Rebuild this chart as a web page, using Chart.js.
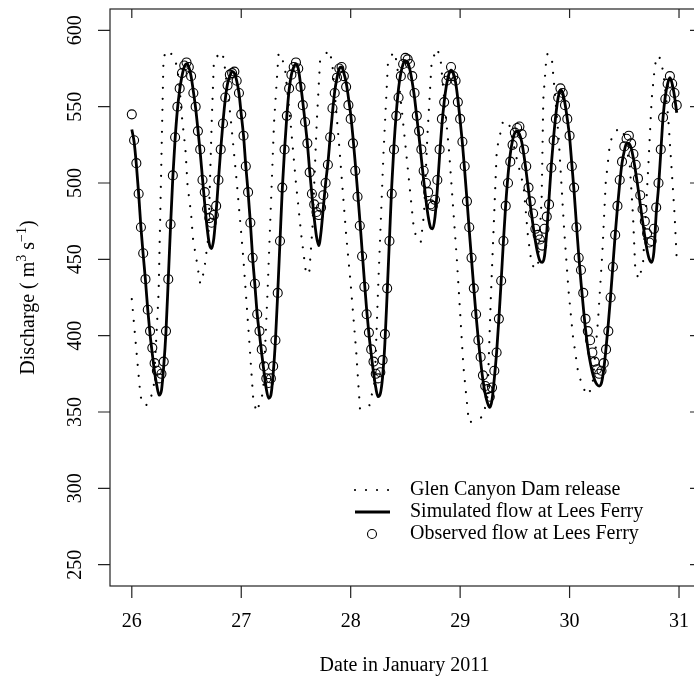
<!DOCTYPE html>
<html>
<head>
<meta charset="utf-8">
<script src="https://cdn.jsdelivr.net/npm/chart.js@4.4.1/dist/chart.umd.min.js"></script>
<style>
  html, body { margin: 0; padding: 0; background: #fff; overflow: hidden; }
  canvas { display: block; }
</style>
</head>
<body>
<canvas id="graficoCaudal" width="710" height="683"></canvas>
<script>
// half-hourly samples starting 26 Jan 2011 00:00
const startDay = 26;
const stepDay = 1 / 48;

// simulated flow at Lees Ferry (m3/s), half-hourly
const simFlow = [
  535, 527, 512, 493, 471, 453, 436, 417, 401, 388,
  376, 367, 361, 364, 380, 403, 437, 472, 504, 529,
  548, 561, 570, 576, 578, 576, 570, 560, 549, 535,
  520, 503, 486, 471, 460, 457, 464, 481, 502, 522,
  540, 555, 565, 570, 573, 572, 567, 559, 545, 531,
  511, 494, 474, 451, 433, 414, 401, 388, 376, 365,
  359, 361, 375, 397, 428, 462, 496, 522, 544, 561,
  571, 576, 578, 575, 565, 553, 540, 526, 508, 492,
  477, 465, 459, 468, 484, 500, 513, 530, 546, 560,
  569, 575, 576, 572, 566, 556, 545, 530, 513, 495,
  476, 456, 436, 417, 401, 388, 376, 366, 360, 362,
  373, 395, 428, 463, 498, 525, 546, 562, 572, 578,
  580, 579, 574, 566, 556, 543, 530, 516, 502, 489,
  478, 471, 470, 478, 496, 518, 538, 553, 564, 571,
  574, 572, 566, 555, 541, 526, 508, 489, 469, 450,
  431, 413, 397, 383, 371, 362, 356, 353, 358, 372,
  389, 411, 436, 462, 486, 505, 519, 528, 533, 534,
  532, 527, 518, 507, 495, 483, 472, 462, 454, 449,
  448, 452, 468, 490, 512, 530, 545, 556, 561, 559,
  552, 542, 530, 512, 494, 473, 453, 435, 419, 404,
  392, 383, 376, 371, 368, 367, 369, 378, 392, 408,
  426, 446, 466, 484, 500, 513, 521, 526, 526, 523,
  516, 507, 497, 486, 475, 465, 456, 450, 448, 455,
  480, 497, 520, 543, 557, 565, 569, 565, 557, 546
];

// observed flow at Lees Ferry (m3/s), half-hourly
const obsFlow = [
  545, 528, 513, 493, 471, 454, 437, 417, 403, 392,
  382, 377, 372, 375, 383, 403, 437, 473, 505, 530,
  550, 562, 572, 577, 579, 576, 570, 559, 550, 534,
  522, 502, 494, 483, 477, 474, 479, 485, 502, 522,
  539, 556, 564, 571, 572, 573, 567, 559, 545, 531,
  511, 494, 474, 451, 434, 414, 403, 391, 380, 372,
  369, 372, 380, 397, 428, 462, 497, 522, 544, 562,
  571, 576, 579, 575, 563, 551, 540, 526, 507, 493,
  486, 481, 479, 484, 492, 500, 512, 530, 549, 559,
  569, 575, 576, 570, 563, 551, 542, 526, 508, 491,
  472, 452, 432, 414, 402, 391, 383, 375, 372, 376,
  384, 401, 431, 462, 493, 522, 544, 556, 570, 578,
  582, 581, 578, 570, 559, 544, 534, 522, 508, 500,
  494, 486, 485, 489, 502, 522, 542, 553, 567, 570,
  576, 570, 567, 553, 542, 527, 511, 488, 471, 451,
  431, 414, 397, 386, 374, 367, 365, 360, 366, 377,
  389, 411, 436, 462, 485, 500, 514, 525, 533, 536,
  537, 532, 522, 511, 497, 488, 480, 470, 466, 463,
  459, 470, 478, 486, 510, 528, 542, 556, 562, 559,
  551, 542, 531, 511, 497, 471, 451, 443, 428, 411,
  403, 397, 389, 383, 378, 375, 377, 382, 391, 403,
  425, 445, 466, 485, 502, 514, 524, 529, 531, 526,
  519, 512, 503, 492, 483, 475, 467, 461, 462, 470,
  484, 500, 522, 543, 555, 565, 570, 565, 559, 551
];

// Glen Canyon Dam release (m3/s), read at its turning points
const releaseDay = [
  26.00, 26.04, 26.08, 26.12, 26.16, 26.20, 26.245, 26.29, 26.34, 26.40,
  26.43, 26.46, 26.49, 26.51, 26.54, 26.56, 26.595, 26.625, 26.66, 26.70,
  26.73, 26.75, 26.81, 26.84, 26.90, 26.96, 27.02, 27.07, 27.11, 27.14,
  27.17, 27.20, 27.24, 27.30, 27.34, 27.36, 27.40, 27.45, 27.50, 27.55,
  27.59, 27.62, 27.65, 27.69, 27.72, 27.80, 27.83, 27.90, 27.96, 28.00,
  28.05, 28.085, 28.17, 28.22, 28.25, 28.30, 28.34, 28.39, 28.42, 28.50,
  28.58, 28.64, 28.67, 28.70, 28.74, 28.79, 28.82, 28.90, 28.97, 29.03,
  29.08, 29.15, 29.21, 29.25, 29.28, 29.335, 29.39, 29.42, 29.45, 29.52,
  29.58, 29.62, 29.655, 29.71, 29.745, 29.76, 29.79, 29.81, 29.84, 29.90,
  29.95, 29.99, 30.03, 30.08, 30.13, 30.17, 30.21, 30.26, 30.30, 30.33,
  30.37, 30.42, 30.46, 30.49, 30.55, 30.58, 30.60, 30.63, 30.67, 30.72,
  30.75, 30.78, 30.80, 30.82, 30.856, 30.90, 30.93, 30.96, 30.98
];
const releaseFlow = [
  424, 392, 360, 354, 356, 366, 428, 583, 587, 580,
  568, 542, 522, 498, 481, 463, 448, 434, 442, 465,
  540, 580, 586, 582, 545, 500, 450, 400, 358, 350,
  356, 363, 428, 540, 584, 585, 575, 540, 500, 465,
  442, 440, 470, 540, 580, 587, 580, 520, 465, 434,
  390, 352, 354, 370, 430, 520, 578, 586, 580, 525,
  468, 461, 480, 530, 580, 588, 582, 520, 450, 380,
  343, 345, 347, 360, 424, 522, 540, 541, 538, 515,
  498, 465, 446, 444, 490, 555, 584, 585, 580, 530,
  470, 430, 400, 375, 365, 361, 368, 410, 455, 500,
  527, 534, 536, 534, 512, 478, 444, 437, 446, 512,
  555, 577, 583, 583, 573, 544, 512, 479, 449
];

const xTicks = [26, 27, 28, 29, 30, 31];
const yTicks = [250, 300, 350, 400, 450, 500, 550, 600];
const legendLabels = ['Glen Canyon Dam release', 'Simulated flow at Lees Ferry', 'Observed flow at Lees Ferry'];

const toPoints = vals => vals.map((v, i) => ({ x: startDay + i * stepDay, y: v }));
const releasePoints = releaseDay.map((d, i) => ({ x: d, y: releaseFlow[i] }));

const SERIF = '"Liberation Serif", "DejaVu Serif", serif';

// R style box, ticks, labels and legend
const marcoR = {
  id: 'marcoR',
  afterDraw(chart) {
    const { ctx, chartArea: a, scales: { x, y } } = chart;
    ctx.save();
    ctx.strokeStyle = '#222';
    ctx.lineWidth = 1.2;
    ctx.strokeRect(a.left, a.top, a.right - a.left, a.bottom - a.top);
    ctx.beginPath();
    xTicks.forEach(t => {
      const px = x.getPixelForValue(t);
      ctx.moveTo(px, a.bottom); ctx.lineTo(px, a.bottom + 12);
      ctx.moveTo(px, a.top); ctx.lineTo(px, a.top + 9);
    });
    yTicks.forEach(t => {
      const py = y.getPixelForValue(t);
      ctx.moveTo(a.left - 12, py); ctx.lineTo(a.left, py);
      ctx.moveTo(a.right - 9, py); ctx.lineTo(a.right, py);
    });
    ctx.stroke();

    ctx.fillStyle = '#000';
    ctx.font = '20px ' + SERIF;
    ctx.textAlign = 'center';
    ctx.textBaseline = 'alphabetic';
    xTicks.forEach(t => ctx.fillText(String(t), x.getPixelForValue(t), 627));
    ctx.fillText('Date in January 2011', (a.left + a.right) / 2, 671);

    yTicks.forEach(t => {
      ctx.save();
      ctx.translate(81, y.getPixelForValue(t));
      ctx.rotate(-Math.PI / 2);
      ctx.fillText(String(t), 0, 0);
      ctx.restore();
    });

    // y title with superscripts
    const parts = [
      ['Discharge ( m', 20, 0], ['3', 14, -8], [' s', 20, 0], ['\u22121', 14, -8], [')', 20, 0]
    ];
    let total = 0;
    parts.forEach(p => { ctx.font = p[1] + 'px ' + SERIF; total += ctx.measureText(p[0]).width; });
    ctx.save();
    ctx.translate(34, (a.top + a.bottom) / 2);
    ctx.rotate(-Math.PI / 2);
    ctx.textAlign = 'left';
    let cx = -total / 2;
    parts.forEach(p => {
      ctx.font = p[1] + 'px ' + SERIF;
      ctx.fillText(p[0], cx, p[2]);
      cx += ctx.measureText(p[0]).width;
    });
    ctx.restore();

    // legend
    const rows = [490, 512, 534];
    ctx.font = '20px ' + SERIF;
    ctx.textAlign = 'left';
    ctx.textBaseline = 'middle';
    legendLabels.forEach((lab, i) => ctx.fillText(lab, 410, rows[i]));
    ctx.strokeStyle = '#000';
    ctx.lineCap = 'round';
    ctx.lineWidth = 2.2;
    ctx.setLineDash([0.01, 11]);
    ctx.beginPath(); ctx.moveTo(355, rows[0]); ctx.lineTo(392, rows[0]); ctx.stroke();
    ctx.setLineDash([]);
    ctx.lineCap = 'butt';
    ctx.lineWidth = 2.8;
    ctx.beginPath(); ctx.moveTo(355, rows[1]); ctx.lineTo(390, rows[1]); ctx.stroke();
    ctx.lineWidth = 1.1;
    ctx.beginPath(); ctx.arc(372, rows[2], 4.5, 0, Math.PI * 2); ctx.stroke();
    ctx.restore();
  }
};

const ctx = document.getElementById('graficoCaudal').getContext('2d');
new Chart(ctx, {
  type: 'line',
  data: {
    datasets: [
      {
        label: legendLabels[2],
        data: toPoints(obsFlow),
        showLine: false,
        pointRadius: 4.5,
        pointBorderWidth: 1.1,
        pointBorderColor: '#000',
        pointBackgroundColor: 'rgba(0,0,0,0)'
      },
      {
        label: legendLabels[1],
        data: toPoints(simFlow),
        borderColor: '#000',
        borderWidth: 2.8,
        cubicInterpolationMode: 'monotone',
        borderJoinStyle: 'round',
        pointRadius: 0
      },
      {
        label: legendLabels[0],
        data: releasePoints,
        borderColor: '#000',
        borderWidth: 2.2,
        borderDash: [0.01, 11],
        borderCapStyle: 'round',
        tension: 0,
        pointRadius: 0
      }
    ]
  },
  options: {
    responsive: false,
    animation: false,
    devicePixelRatio: 1,
    layout: { padding: { left: 110, right: 11, top: 9, bottom: 97 } },
    plugins: { legend: { display: false }, tooltip: { enabled: false } },
    scales: {
      x: { type: 'linear', display: false, min: 25.8008, max: 31.1826 },
      y: { type: 'linear', display: false, min: 236, max: 614 }
    }
  },
  plugins: [marcoR]
});
</script>
</body>
</html>
